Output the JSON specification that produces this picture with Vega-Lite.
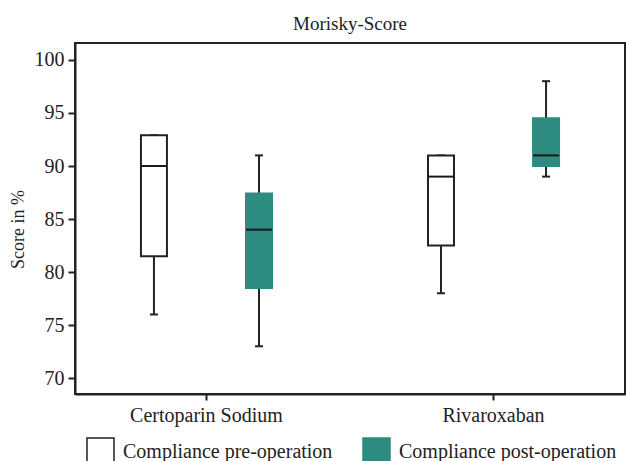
{
  "$schema": "https://vega.github.io/schema/vega-lite/v6.json",
  "width": 550,
  "height": 351,
  "autosize": {"type": "none"},
  "padding": {"left": 75, "top": 43, "right": 1, "bottom": 67},
  "background": "white",
  "title": {"text": "Morisky-Score", "font": "Liberation Serif", "fontSize": 19, "fontWeight": "normal", "color": "#222", "offset": 9},
  "data": {"values": [
    {"drug": "Certoparin Sodium", "phase": "Compliance pre-operation", "min": 76, "q1": 81.5, "median": 90, "q3": 92.9, "max": 92.9},
    {"drug": "Certoparin Sodium", "phase": "Compliance post-operation", "min": 73, "q1": 78.5, "median": 84, "q3": 87.4, "max": 91},
    {"drug": "Rivaroxaban", "phase": "Compliance pre-operation", "min": 78, "q1": 82.5, "median": 89, "q3": 91, "max": 91},
    {"drug": "Rivaroxaban", "phase": "Compliance post-operation", "min": 89, "q1": 90, "median": 91, "q3": 94.5, "max": 98}
  ]},
  "encoding": {
    "x": {"field": "drug", "type": "nominal", "title": null,
      "scale": {"paddingInner": 0.2, "paddingOuter": 0.058},
      "axis": {"labelAngle": 0, "bandPosition": 0.5, "tickSize": 6, "labelPadding": 5, "labelFontSize": 20}},
    "xOffset": {"field": "phase", "type": "nominal",
      "scale": {"domain": ["Compliance pre-operation", "Compliance post-operation"], "paddingInner": 0, "paddingOuter": 0.093}}
  },
  "layer": [
    {
      "mark": {"type": "rule", "color": "#222", "strokeWidth": 2},
      "encoding": {
        "y": {"field": "min", "type": "quantitative", "scale": {"domain": [68.5, 101.6], "nice": false, "zero": false},
          "axis": {"values": [70, 75, 80, 85, 90, 95, 100], "title": "Score in %", "tickSize": 7, "labelPadding": 4, "labelFontSize": 20, "titleFontSize": 18, "titlePadding": 7, "titleY": 186}},
        "y2": {"field": "max"}
      }
    },
    {
      "mark": {"type": "tick", "color": "#222", "size": 8, "thickness": 2, "opacity": 1},
      "encoding": {"y": {"field": "min", "type": "quantitative"}}
    },
    {
      "mark": {"type": "tick", "color": "#222", "size": 8, "thickness": 2, "opacity": 1},
      "encoding": {"y": {"field": "max", "type": "quantitative"}}
    },
    {
      "mark": {"type": "bar", "size": 26, "strokeWidth": 2, "opacity": 1},
      "encoding": {
        "y": {"field": "q1", "type": "quantitative"},
        "y2": {"field": "q3"},
        "fill": {"field": "phase", "type": "nominal", "title": null,
          "scale": {"domain": ["Compliance pre-operation", "Compliance post-operation"], "range": ["white", "#2E8B7F"]},
          "legend": {"orient": "none", "legendX": 11, "legendY": 394, "direction": "horizontal", "symbolType": "square", "symbolSize": 729, "symbolStrokeWidth": 1.5, "labelFontSize": 20, "labelOffset": 8, "columnPadding": 27, "labelLimit": 400}},
        "stroke": {"field": "phase", "type": "nominal", "title": null,
          "scale": {"domain": ["Compliance pre-operation", "Compliance post-operation"], "range": ["#222", "#2E8B7F"]}}
      }
    },
    {
      "mark": {"type": "tick", "color": "#1a1a1a", "size": 26, "thickness": 2, "opacity": 1},
      "encoding": {"y": {"field": "median", "type": "quantitative"}}
    }
  ],
  "config": {
    "font": "Liberation Serif",
    "view": {"stroke": "#222", "strokeWidth": 2},
    "axis": {"grid": false, "domainColor": "#222", "domainWidth": 2, "tickColor": "#222", "tickWidth": 2, "labelColor": "#222", "titleColor": "#222", "labelFont": "Liberation Serif", "titleFont": "Liberation Serif", "titleFontWeight": "normal"},
    "legend": {"labelFont": "Liberation Serif", "labelColor": "#222"}
  }
}
